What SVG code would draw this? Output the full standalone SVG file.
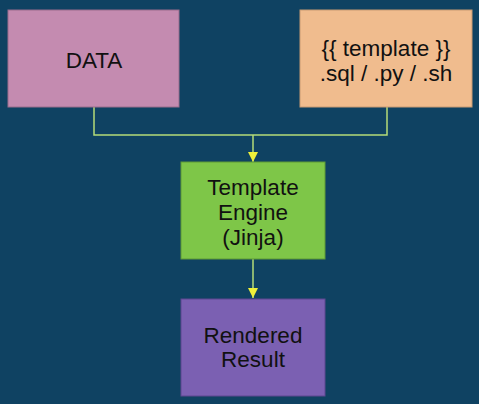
<svg xmlns="http://www.w3.org/2000/svg" width="479" height="404" viewBox="0 0 479 404">
<style>
text{font-family:"Liberation Sans",Arial,sans-serif;font-size:22.5px;fill:#111;text-anchor:middle;dominant-baseline:central}
.box{stroke-width:1}
.ln{fill:none;stroke:#b5dc78;stroke-width:1.5}
</style>
<defs>
<marker id="ah" viewBox="0 0 10 10" refX="10" refY="5" markerWidth="10" markerHeight="10" orient="auto" markerUnits="userSpaceOnUse">
<path d="M0,0L10,5L0,10z" fill="#eef03a"/>
</marker>
</defs>
<rect width="479" height="404" fill="#0f4262"/>
<g id="connectors">
<path class="ln" d="M94,107V135H387V107"/>
<path class="ln" d="M253,135V162" marker-end="url(#ah)"/>
<path class="ln" d="M253,259V298" marker-end="url(#ah)"/>
</g>
<g id="data">
<rect class="box" x="8" y="10" width="171" height="97" fill="#c48bb0" stroke="#9a6c8c"/>
<text x="94" y="60">DATA</text>
</g>
<g id="template">
<rect class="box" x="300" y="10" width="172" height="97" fill="#f0bc8e" stroke="#c89a72"/>
<text x="386" y="48">{{ template }}</text>
<text x="386" y="73">.sql / .py / .sh</text>
</g>
<g id="engine">
<rect class="box" x="181" y="162" width="144" height="97" fill="#7ec648" stroke="#5f9a35"/>
<text x="253" y="187">Template</text>
<text x="253" y="212">Engine</text>
<text x="253" y="237">(Jinja)</text>
</g>
<g id="result">
<rect class="box" x="181" y="299" width="144" height="97" fill="#7b60b2" stroke="#5e4790"/>
<text x="253" y="335">Rendered</text>
<text x="253" y="359">Result</text>
</g>
</svg>
